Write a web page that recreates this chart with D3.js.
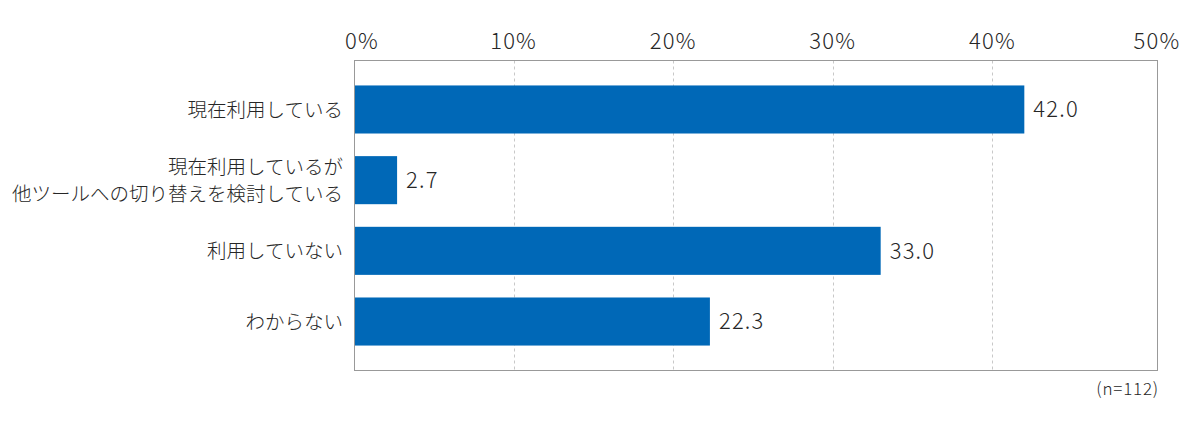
<!DOCTYPE html>
<html><head><meta charset="utf-8">
<script src="https://cdn.jsdelivr.net/npm/d3@7"></script>
<style>
html,body{margin:0;padding:0;background:#fff;}
svg{display:block;}
text{font-family:"Noto Sans CJK JP","Noto Sans",sans-serif;fill:#262626;font-weight:300;}
.num{letter-spacing:1.2px;}
</style></head><body>
<svg id="chart" width="1200" height="424"></svg>
<script>
const categories = [
  ["現在利用している"],
  ["現在利用しているが", "他ツールへの切り替えを検討している"],
  ["利用していない"],
  ["わからない"]
];
const values = [42.0, 2.7, 33.0, 22.3];
const tickValues = [0, 10, 20, 30, 40, 50];
const tickLabels = ["0%", "10%", "20%", "30%", "40%", "50%"];
const note = "(n=112)";

const svg = d3.select("#chart");
const plot = {left: 354, right: 1157, top: 60.5, bottom: 370.5};

const x = d3.scaleLinear().domain([0, 50]).range([354, 1152]);
const y = d3.scaleBand().domain(d3.range(categories.length))
  .range([plot.top, plot.bottom]).paddingInner(0.32).paddingOuter(0.353);

// gridlines
svg.append("g").selectAll("line").data(tickValues.filter(d => d > 0 && d < 50)).join("line")
  .attr("x1", d => Math.round(x(d)) + 0.5).attr("x2", d => Math.round(x(d)) + 0.5)
  .attr("y1", plot.top).attr("y2", plot.bottom)
  .attr("stroke", "#c8c8c8").attr("stroke-width", 1).attr("stroke-dasharray", "3,3");

// plot border
svg.append("rect").attr("x", plot.left + 0.5).attr("y", plot.top)
  .attr("width", plot.right - plot.left).attr("height", plot.bottom - plot.top)
  .attr("fill", "none").attr("stroke", "#999").attr("stroke-width", 1);

// bars
svg.append("g").selectAll("rect").data(values).join("rect")
  .attr("x", x(0) + 1).attr("y", (d, i) => y(i))
  .attr("width", d => x(d) - x(0) - 1).attr("height", y.bandwidth())
  .attr("fill", "#0068b7");

// value labels
svg.append("g").selectAll("text").data(values).join("text")
  .attr("class", "num")
  .attr("x", d => x(d) + 9).attr("y", (d, i) => y(i) + y.bandwidth() / 2)
  .attr("dy", "0.36em").attr("font-size", 22)
  .text(d => d.toFixed(1));

// tick labels on top
svg.append("g").selectAll("text").data(tickValues).join("text")
  .attr("class", "num")
  .attr("x", (d, i) => x(d) + (i === 0 ? 8 : (i === 5 ? 5 : 0)))
  .attr("y", 49).attr("text-anchor", "middle").attr("font-size", 22)
  .text((d, i) => tickLabels[i]);

// category labels
const cat = svg.append("g").selectAll("text").data(categories).join("text")
  .attr("text-anchor", "end").attr("font-size", 19.5)
  .attr("y", (d, i) => y(i) + y.bandwidth() / 2);
cat.each(function(lines) {
  const t = d3.select(this);
  const lh = 27;
  lines.forEach((ln, k) => {
    t.append("tspan").attr("x", plot.left - 11)
      .attr("dy", k === 0 ? (0.36 * 19.5 - (lines.length - 1) * lh / 2) : lh)
      .text(ln);
  });
});

// note
svg.append("text").attr("x", 1159).attr("y", 395).attr("text-anchor", "end")
  .attr("font-size", 17).attr("letter-spacing", "0.8px").text(note);
</script>
</body></html>
